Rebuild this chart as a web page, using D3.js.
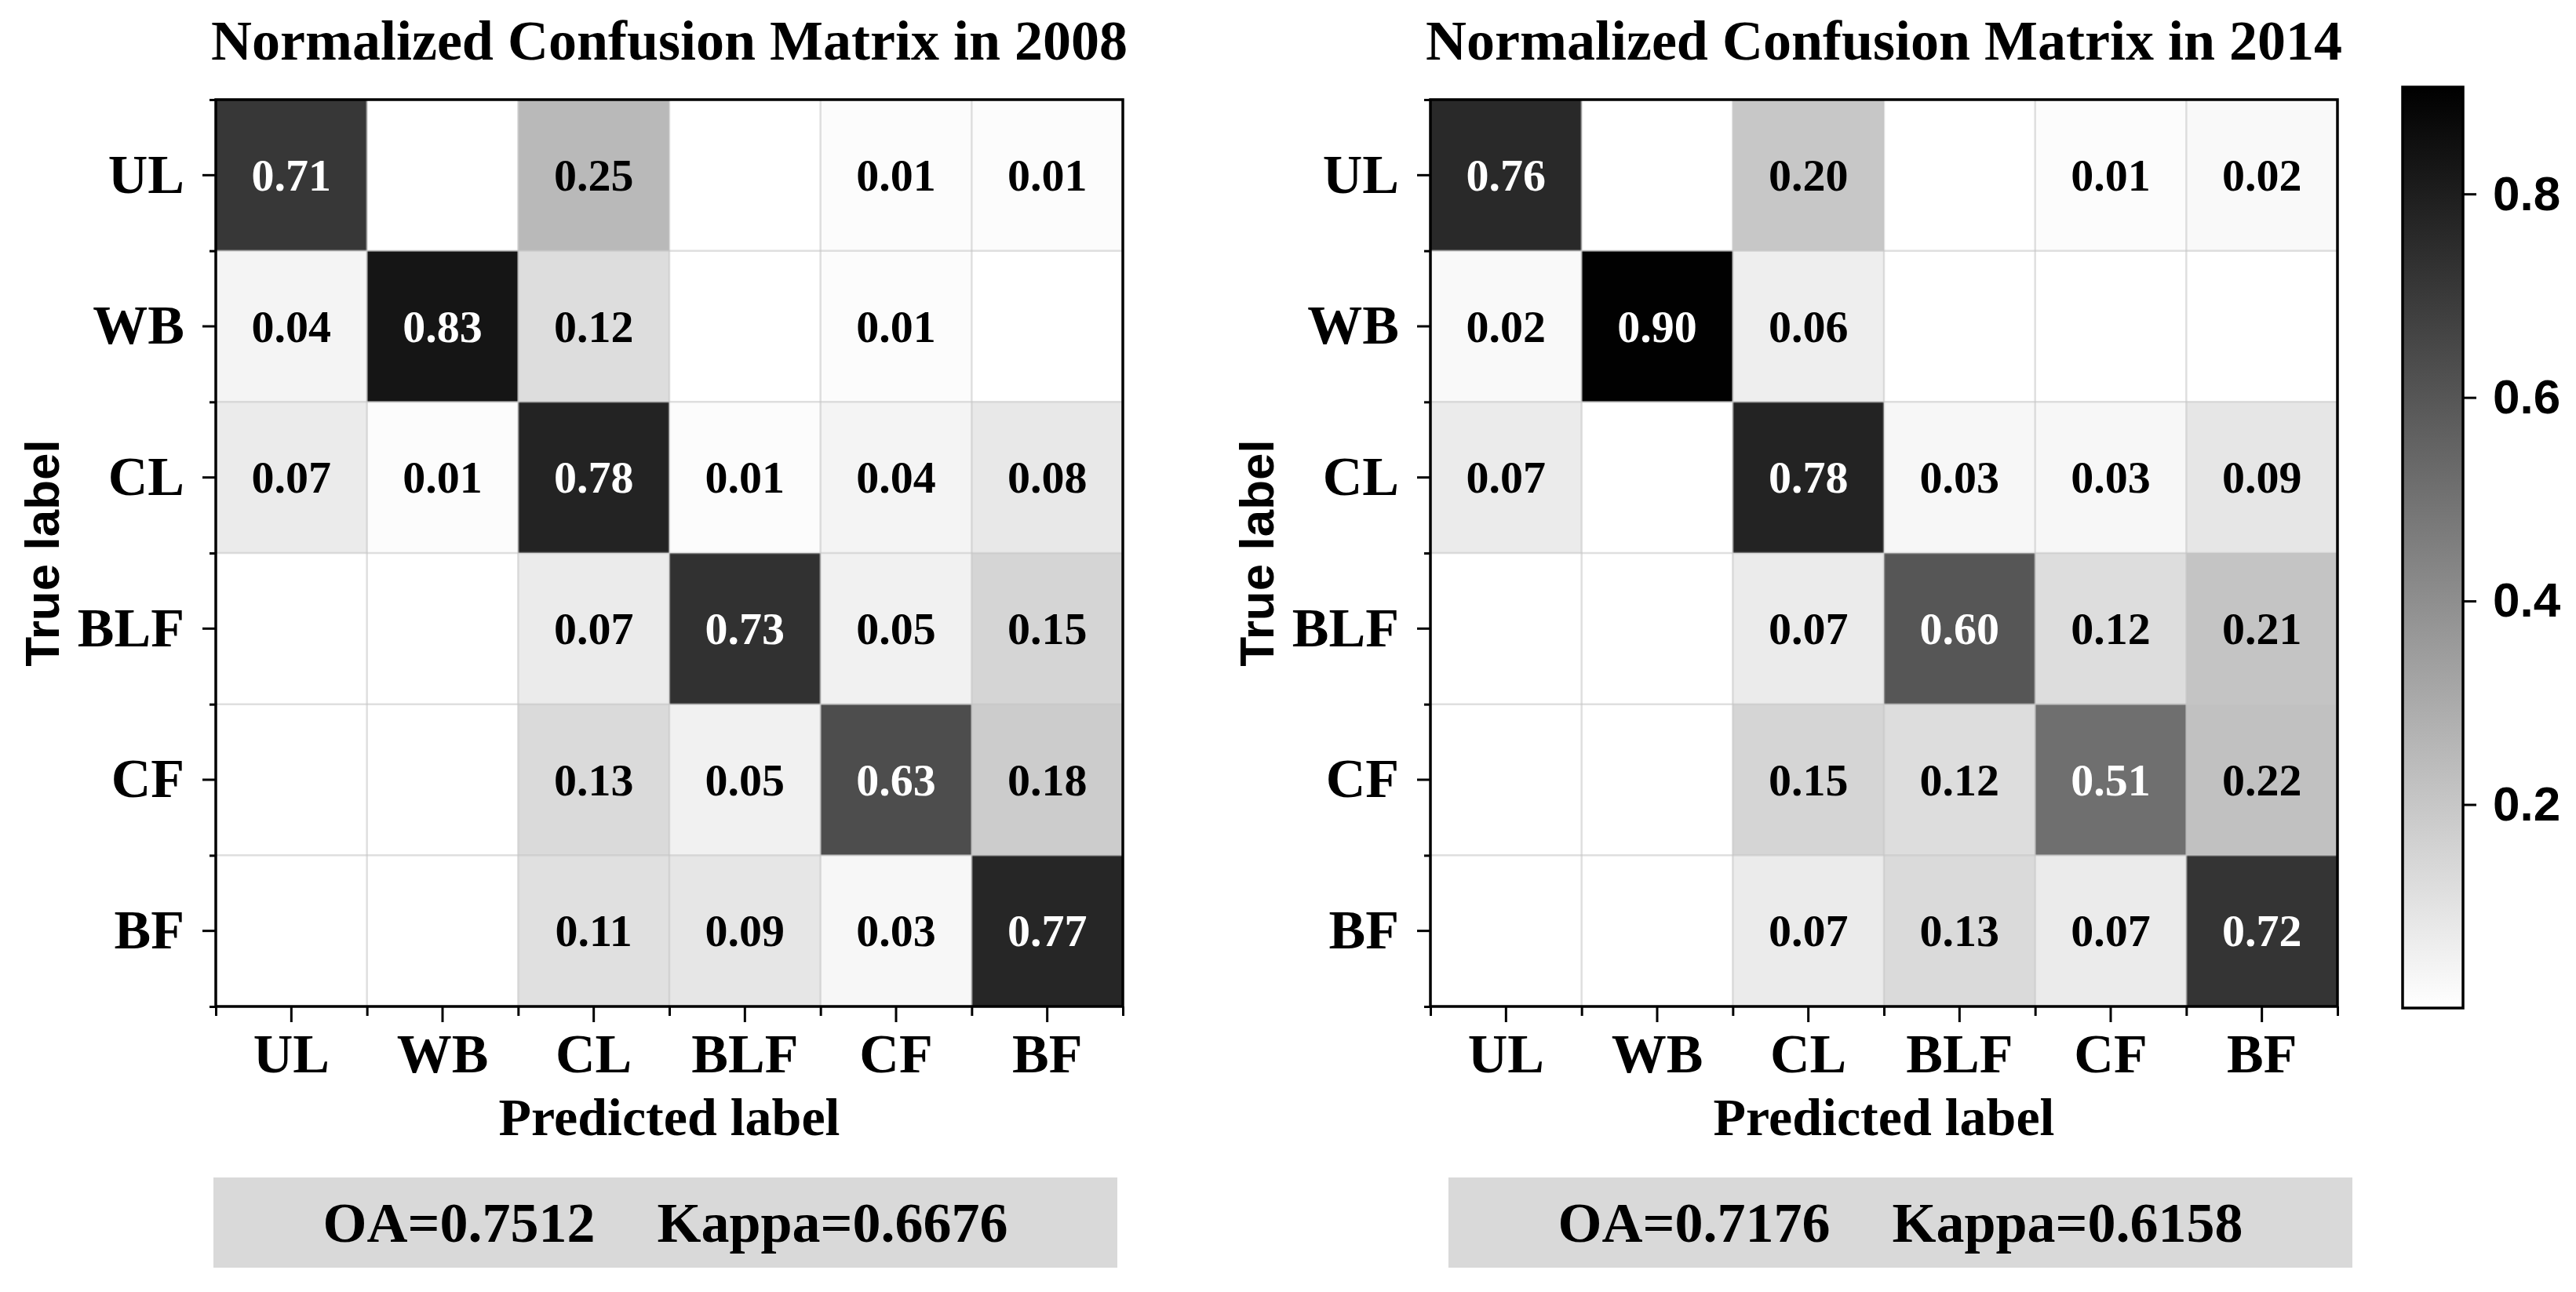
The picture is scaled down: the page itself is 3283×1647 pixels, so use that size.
<!DOCTYPE html>
<html lang="en">
  <head>
    <meta charset="UTF-8" />
    <title>normalized confusion matrices</title>
    <style>
      body { margin: 0; background: #fff; }
      svg { display: block; }
    </style>
  </head>
  <body>
    <svg width="3283" height="1647" version="1.1" xmlns="http://www.w3.org/2000/svg"></svg>
    <script src="https://cdn.jsdelivr.net/npm/d3@7"></script>
    <script>
      // class labels (rows = true, columns = predicted)
      const classes = ["UL", "WB", "CL", "BLF", "CF", "BF"];

      // null = empty cell (0)
      const matrix2008 = [
        [0.71, null, 0.25, null, 0.01, 0.01],
        [0.04, 0.83, 0.12, null, 0.01, null],
        [0.07, 0.01, 0.78, 0.01, 0.04, 0.08],
        [null, null, 0.07, 0.73, 0.05, 0.15],
        [null, null, 0.13, 0.05, 0.63, 0.18],
        [null, null, 0.11, 0.09, 0.03, 0.77]
      ];
      const matrix2014 = [
        [0.76, null, 0.2, null, 0.01, 0.02],
        [0.02, 0.9, 0.06, null, null, null],
        [0.07, null, 0.78, 0.03, 0.03, 0.09],
        [null, null, 0.07, 0.6, 0.12, 0.21],
        [null, null, 0.15, 0.12, 0.51, 0.22],
        [null, null, 0.07, 0.13, 0.07, 0.72]
      ];

      const years = ["2008", "2014"];
      const oaValues = ["0.7512", "0.7176"];
      const kappaValues = ["0.6676", "0.6158"];

      const colorDomain = [0, 0.905]; // colorbar range
      const colorTicks = [0.2, 0.4, 0.6, 0.8];

      const svg = d3.select("svg");
      const serif = "'Liberation Serif', 'Times New Roman', serif";
      const sans = "'Liberation Sans', Arial, sans-serif";

      const color = d3.scaleLinear().domain(colorDomain).range(["#ffffff", "#000000"]);

      const size = 1156;
      const panels = [
        { left: 275, top: 127, box: 272, data: matrix2008 },
        { left: 1823, top: 127, box: 1846, data: matrix2014 }
      ];

      panels.forEach((p, k) => drawMatrix(p, k));
      drawColorbar();

      function drawMatrix(p, k) {
        const x = d3.scaleBand().domain(classes).range([p.left, p.left + size]);
        const y = d3.scaleBand().domain(classes).range([p.top, p.top + size]);
        const edge = d3.scaleLinear().domain([0, classes.length]);
        const g = svg.append("g");

        const cells = [];
        p.data.forEach((row, i) =>
          row.forEach((v, j) => cells.push({ r: classes[i], c: classes[j], v }))
        );

        g.selectAll("rect.cell")
          .data(cells)
          .enter()
          .append("rect")
          .attr("class", "cell")
          .attr("x", d => x(d.c))
          .attr("y", d => y(d.r))
          .attr("width", x.bandwidth() + 0.5)
          .attr("height", y.bandwidth() + 0.5)
          .attr("fill", d => color(d.v || 0));

        // light grid on cell boundaries
        const xe = edge.copy().range([p.left, p.left + size]);
        const ye = edge.copy().range([p.top, p.top + size]);
        const inner = d3.range(1, classes.length);
        g.selectAll("line.gx")
          .data(inner)
          .enter()
          .append("line")
          .attr("x1", d => xe(d))
          .attr("x2", d => xe(d))
          .attr("y1", p.top)
          .attr("y2", p.top + size)
          .style("stroke", "#c4c4c4")
          .style("stroke-opacity", 0.55)
          .style("stroke-width", 2.5);
        g.selectAll("line.gy")
          .data(inner)
          .enter()
          .append("line")
          .attr("y1", d => ye(d))
          .attr("y2", d => ye(d))
          .attr("x1", p.left)
          .attr("x2", p.left + size)
          .style("stroke", "#c4c4c4")
          .style("stroke-opacity", 0.55)
          .style("stroke-width", 2.5);

        g.selectAll("text.val")
          .data(cells.filter(d => d.v != null))
          .enter()
          .append("text")
          .attr("x", d => x(d.c) + x.bandwidth() / 2)
          .attr("y", d => y(d.r) + y.bandwidth() / 2)
          .attr("dy", "0.34em")
          .attr("text-anchor", "middle")
          .style("font-family", serif)
          .style("font-weight", "bold")
          .style("font-size", "58px")
          .style("fill", d => (d.v > 0.45 ? "#fff" : "#000"))
          .text(d => d.v.toFixed(2));

        // axes: major ticks at centres, minor at cell edges
        const yAxis = g.append("g")
          .attr("transform", `translate(${p.left},0)`)
          .call(d3.axisLeft(y).tickSize(17).tickPadding(23));
        const xAxis = g.append("g")
          .attr("transform", `translate(0,${p.top + size})`)
          .call(d3.axisBottom(x).tickSize(20).tickPadding(14));
        g.append("g")
          .attr("transform", `translate(${p.left},0)`)
          .call(d3.axisLeft(ye).tickValues(d3.range(0, 7)).tickSize(8).tickFormat(""));
        g.append("g")
          .attr("transform", `translate(0,${p.top + size})`)
          .call(d3.axisBottom(xe).tickValues(d3.range(0, 7)).tickSize(12).tickFormat(""));

        g.selectAll(".domain").remove();
        g.selectAll(".tick line").style("stroke", "#000").style("stroke-width", 3);
        [yAxis, xAxis].forEach(a =>
          a.selectAll("text")
            .style("font-family", serif)
            .style("font-weight", "bold")
            .style("font-size", "70px")
            .style("fill", "#000")
        );

        g.append("rect")
          .attr("x", p.left)
          .attr("y", p.top)
          .attr("width", size)
          .attr("height", size)
          .style("fill", "none")
          .style("stroke", "#000")
          .style("stroke-width", 3.5);

        const cx = p.left + size / 2;
        g.append("text")
          .attr("x", cx)
          .attr("y", 76)
          .attr("text-anchor", "middle")
          .style("font-family", serif)
          .style("font-weight", "bold")
          .style("font-size", "72px")
          .text("Normalized Confusion Matrix in " + years[k]);

        g.append("text")
          .attr("x", cx)
          .attr("y", 1447)
          .attr("text-anchor", "middle")
          .style("font-family", serif)
          .style("font-weight", "bold")
          .style("font-size", "68px")
          .text("Predicted label");

        g.append("text")
          .attr("transform", `translate(${p.left - 200},${p.top + size / 2}) rotate(-90)`)
          .attr("text-anchor", "middle")
          .style("font-family", sans)
          .style("font-weight", "bold")
          .style("font-size", "62px")
          .text("True label");

        // OA / Kappa box
        g.append("rect")
          .attr("x", p.box)
          .attr("y", 1501)
          .attr("width", 1152)
          .attr("height", 115)
          .style("fill", "#d9d9d9");
        const t = g.append("text")
          .attr("x", p.box + 576)
          .attr("y", 1583)
          .attr("text-anchor", "middle")
          .style("font-family", serif)
          .style("font-weight", "bold")
          .style("font-size", "72px");
        t.append("tspan").text("OA=" + oaValues[k]);
        t.append("tspan").attr("dx", 79).text("Kappa=" + kappaValues[k]);
      }

      function drawColorbar() {
        const bx = 3062, bw = 77, top = 111, bottom = 1285;
        const cy = d3.scaleLinear().domain(colorDomain).range([bottom, top]);

        const grad = svg.append("defs")
          .append("linearGradient")
          .attr("id", "cbar")
          .attr("x1", 0).attr("y1", 1).attr("x2", 0).attr("y2", 0);
        grad.append("stop").attr("offset", 0).attr("stop-color", color(colorDomain[0]));
        grad.append("stop").attr("offset", 1).attr("stop-color", color(colorDomain[1]));

        svg.append("rect")
          .attr("x", bx)
          .attr("y", top)
          .attr("width", bw)
          .attr("height", bottom - top)
          .style("fill", "url(#cbar)")
          .style("stroke", "#000")
          .style("stroke-width", 3.5);

        const ax = svg.append("g")
          .attr("transform", `translate(${bx + bw},0)`)
          .call(d3.axisRight(cy).tickValues(colorTicks).tickSize(17).tickPadding(21).tickFormat(d3.format(".1f")));
        ax.select(".domain").remove();
        ax.selectAll(".tick line").style("stroke", "#000").style("stroke-width", 3);
        ax.selectAll("text")
          .style("font-family", sans)
          .style("font-weight", "bold")
          .style("font-size", "62px")
          .style("fill", "#000");
      }
    </script>
  </body>
</html>
